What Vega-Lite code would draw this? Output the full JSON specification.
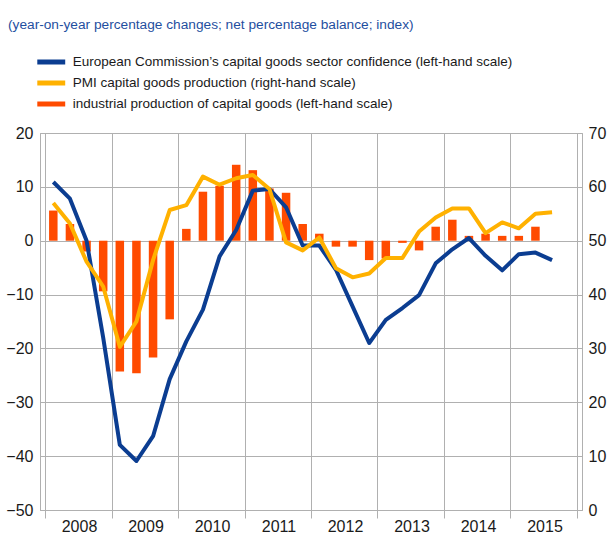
{
  "$schema": "https://vega.github.io/schema/vega-lite/v6.json",
  "width": 542,
  "height": 377,
  "autosize": {"type": "none"},
  "padding": {"left": 40, "top": 133, "right": 27, "bottom": 27},
  "background": "white",
  "config": {
    "font": "Liberation Sans",
    "view": {"stroke": "#b0b0b0", "strokeWidth": 1},
    "axis": {"labelFont": "Liberation Sans", "labelFontSize": 16, "labelColor": "#1a1a1a", "gridColor": "#b0b0b0", "gridOpacity": 1, "gridWidth": 1, "domainColor": "#b0b0b0", "tickColor": "#b0b0b0", "title": null},
    "legend": {"orient": "none", "legendX": 1.75, "legendY": -80.5, "symbolType": "M-2.07,0H2.07", "symbolSize": 182, "symbolStrokeWidth": 5, "labelOffset": 12, "rowPadding": 0, "labelFontSize": 13.5, "labelFont": "Liberation Sans", "labelColor": "#1a1a1a", "padding": 0, "labelLimit": 0}
  },
  "title": {"text": "(year-on-year percentage changes; net percentage balance; index)", "anchor": "start", "frame": "group", "orient": "top", "dx": -32, "offset": 10, "baseline": "alphabetic", "fontSize": 13.7, "fontWeight": "normal", "color": "#1f4fa0", "font": "Liberation Sans"},
  "data": {"values": [
    {"t": 2008.125, "s": "ip", "v": 5.6}, {"t": 2008.375, "s": "ip", "v": 3.1}, {"t": 2008.625, "s": "ip", "v": -2.0}, {"t": 2008.875, "s": "ip", "v": -9.4},
    {"t": 2009.125, "s": "ip", "v": -24.3}, {"t": 2009.375, "s": "ip", "v": -24.6}, {"t": 2009.625, "s": "ip", "v": -21.7}, {"t": 2009.875, "s": "ip", "v": -14.6},
    {"t": 2010.125, "s": "ip", "v": 2.2}, {"t": 2010.375, "s": "ip", "v": 9.1}, {"t": 2010.625, "s": "ip", "v": 10.2}, {"t": 2010.875, "s": "ip", "v": 14.1},
    {"t": 2011.125, "s": "ip", "v": 13.1}, {"t": 2011.375, "s": "ip", "v": 9.7}, {"t": 2011.625, "s": "ip", "v": 8.9}, {"t": 2011.875, "s": "ip", "v": 3.1},
    {"t": 2012.125, "s": "ip", "v": 1.3}, {"t": 2012.375, "s": "ip", "v": -1.1}, {"t": 2012.625, "s": "ip", "v": -1.1}, {"t": 2012.875, "s": "ip", "v": -3.6},
    {"t": 2013.125, "s": "ip", "v": -3.3}, {"t": 2013.375, "s": "ip", "v": -0.4}, {"t": 2013.625, "s": "ip", "v": -1.8}, {"t": 2013.875, "s": "ip", "v": 2.6},
    {"t": 2014.125, "s": "ip", "v": 3.9}, {"t": 2014.375, "s": "ip", "v": 0.9}, {"t": 2014.625, "s": "ip", "v": 1.3}, {"t": 2014.875, "s": "ip", "v": 0.9},
    {"t": 2015.125, "s": "ip", "v": 0.9}, {"t": 2015.375, "s": "ip", "v": 2.6},
    {"t": 2008.125, "s": "ec", "v": 10.9}, {"t": 2008.375, "s": "ec", "v": 7.8}, {"t": 2008.625, "s": "ec", "v": 0.0}, {"t": 2008.875, "s": "ec", "v": -18.0},
    {"t": 2009.125, "s": "ec", "v": -37.9}, {"t": 2009.375, "s": "ec", "v": -40.9}, {"t": 2009.625, "s": "ec", "v": -36.3}, {"t": 2009.875, "s": "ec", "v": -25.7},
    {"t": 2010.125, "s": "ec", "v": -18.7}, {"t": 2010.375, "s": "ec", "v": -12.8}, {"t": 2010.625, "s": "ec", "v": -2.9}, {"t": 2010.875, "s": "ec", "v": 2.0},
    {"t": 2011.125, "s": "ec", "v": 9.3}, {"t": 2011.375, "s": "ec", "v": 9.6}, {"t": 2011.625, "s": "ec", "v": 6.2}, {"t": 2011.875, "s": "ec", "v": -0.9},
    {"t": 2012.125, "s": "ec", "v": -0.9}, {"t": 2012.375, "s": "ec", "v": -5.4}, {"t": 2012.625, "s": "ec", "v": -12.2}, {"t": 2012.875, "s": "ec", "v": -19.0},
    {"t": 2013.125, "s": "ec", "v": -14.7}, {"t": 2013.375, "s": "ec", "v": -12.5}, {"t": 2013.625, "s": "ec", "v": -10.1}, {"t": 2013.875, "s": "ec", "v": -4.2},
    {"t": 2014.125, "s": "ec", "v": -1.6}, {"t": 2014.375, "s": "ec", "v": 0.5}, {"t": 2014.625, "s": "ec", "v": -2.8}, {"t": 2014.875, "s": "ec", "v": -5.5},
    {"t": 2015.125, "s": "ec", "v": -2.5}, {"t": 2015.375, "s": "ec", "v": -2.2}, {"t": 2015.625, "s": "ec", "v": -3.6},
    {"t": 2008.125, "s": "pmi", "v": 57.0}, {"t": 2008.375, "s": "pmi", "v": 53.2}, {"t": 2008.625, "s": "pmi", "v": 46.1}, {"t": 2008.875, "s": "pmi", "v": 41.5},
    {"t": 2009.125, "s": "pmi", "v": 30.3}, {"t": 2009.375, "s": "pmi", "v": 35.0}, {"t": 2009.625, "s": "pmi", "v": 46.4}, {"t": 2009.875, "s": "pmi", "v": 55.7},
    {"t": 2010.125, "s": "pmi", "v": 56.6}, {"t": 2010.375, "s": "pmi", "v": 61.9}, {"t": 2010.625, "s": "pmi", "v": 60.4}, {"t": 2010.875, "s": "pmi", "v": 61.6},
    {"t": 2011.125, "s": "pmi", "v": 62.2}, {"t": 2011.375, "s": "pmi", "v": 59.6}, {"t": 2011.625, "s": "pmi", "v": 49.7}, {"t": 2011.875, "s": "pmi", "v": 48.2},
    {"t": 2012.125, "s": "pmi", "v": 50.6}, {"t": 2012.375, "s": "pmi", "v": 44.9}, {"t": 2012.625, "s": "pmi", "v": 43.2}, {"t": 2012.875, "s": "pmi", "v": 43.9},
    {"t": 2013.125, "s": "pmi", "v": 46.8}, {"t": 2013.375, "s": "pmi", "v": 46.8}, {"t": 2013.625, "s": "pmi", "v": 51.7}, {"t": 2013.875, "s": "pmi", "v": 54.3},
    {"t": 2014.125, "s": "pmi", "v": 56.0}, {"t": 2014.375, "s": "pmi", "v": 56.0}, {"t": 2014.625, "s": "pmi", "v": 51.4}, {"t": 2014.875, "s": "pmi", "v": 53.4},
    {"t": 2015.125, "s": "pmi", "v": 52.3}, {"t": 2015.375, "s": "pmi", "v": 55.0}, {"t": 2015.625, "s": "pmi", "v": 55.3}
  ]},
  "encoding": {
    "x": {"field": "t", "type": "quantitative",
      "scale": {"domain": [2008, 2016], "nice": false, "zero": false},
      "axis": {"values": [2008, 2009, 2010, 2011, 2012, 2013, 2014, 2015, 2016], "labelExpr": "datum.value < 2016 ? toString(datum.value) : ''", "labelOffset": 34, "labelAlign": "center", "tickSize": 8, "labelPadding": 0, "grid": true, "domain": true, "labelFlush": false, "labelOverlap": false}}
  },
  "layer": [
    {
      "layer": [
        {
          "transform": [{"filter": "datum.s == 'ip'"}],
          "mark": {"type": "bar", "size": 8.5, "color": "#ff4b00"},
          "encoding": {
            "y": {"field": "v", "type": "quantitative",
              "scale": {"domain": [-50, 20], "nice": false},
              "axis": {"orient": "left", "values": [-50, -40, -30, -20, -10, 0, 10, 20], "ticks": false, "labelPadding": 7, "grid": true}}
          }
        },
        {
          "transform": [{"filter": "datum.s == 'ec'"}],
          "mark": {"type": "line", "strokeWidth": 4, "strokeJoin": "round"},
          "encoding": {
            "y": {"field": "v", "type": "quantitative"},
            "color": {"field": "s", "type": "nominal",
              "scale": {"domain": ["ec", "pmi", "ip"], "range": ["#0b3d91", "#ffb100", "#ff4b00"]},
              "legend": {"title": null, "labelExpr": "datum.label == 'ec' ? 'European Commission’s capital goods sector confidence (left-hand scale)' : datum.label == 'pmi' ? 'PMI capital goods production (right-hand scale)' : 'industrial production of capital goods (left-hand scale)'"}}
          }
        }
      ]
    },
    {
      "transform": [{"filter": "datum.s == 'pmi'"}],
      "mark": {"type": "line", "strokeWidth": 4, "strokeJoin": "round"},
      "encoding": {
        "y": {"field": "v", "type": "quantitative",
          "scale": {"domain": [0, 70], "nice": false},
          "axis": {"orient": "right", "values": [0, 10, 20, 30, 40, 50, 60, 70], "ticks": false, "labelPadding": 6, "grid": false}},
        "color": {"field": "s", "type": "nominal"}
      }
    }
  ],
  "resolve": {"scale": {"y": "independent"}}
}
